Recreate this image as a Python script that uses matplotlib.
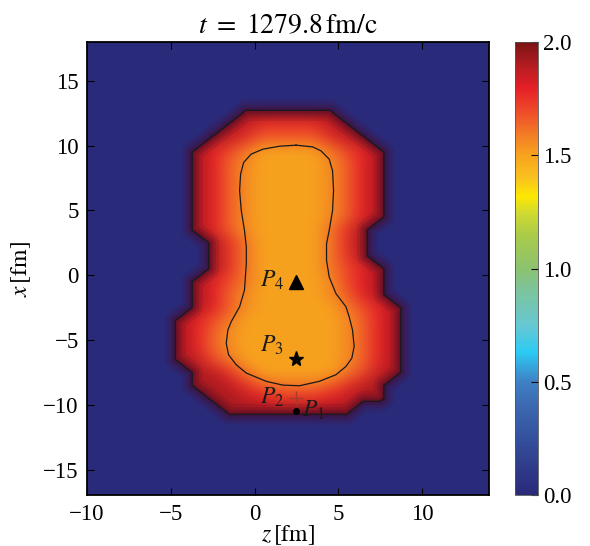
import numpy as np
import matplotlib
matplotlib.use("Agg")
import matplotlib.pyplot as plt
from matplotlib.colors import LinearSegmentedColormap

plt.rcParams['font.family'] = ['Liberation Serif', 'DejaVu Serif']
plt.rcParams['mathtext.fontset'] = 'stix'

# grid of cells, 1 fm wide (cell centres)
z_centres = np.arange(-9.5, 14.0, 1.0)
x_centres = np.arange(17.5, -17.0, -1.0)   # top row first

# cell values ('.' = 0, digits = levels below)
level_of = {'.': 0.0, '1': 1.50, '2': 1.55, '3': 1.60, '4': 1.65,
            '5': 1.70, '6': 1.75, '7': 1.80, '8': 1.86, '9': 1.92}
field_rows = [
    "........................",
    "........................",
    "........................",
    "........................",
    "........................",
    ".........999999.........",
    "........98666689........",
    ".......9864444689.......",
    "......975311113579......",
    "......974211112479......",
    "......974211112479......",
    "......974211112479......",
    "......974211112479......",
    "......974211112479......",
    "......97421111369.......",
    ".......9631111369.......",
    ".......9631111369.......",
    ".......96311113579......",
    "......975311112579......",
    "......974211112479......",
    "......9742111113579.....",
    ".....97531111112479.....",
    ".....97421111112479.....",
    ".....97421111112479.....",
    ".....98531111112479.....",
    "......9863111113589.....",
    "......998643334689......",
    ".......99876667899......",
    "........99999999........",
    "........................",
    "........................",
    "........................",
    "........................",
    "........................",
    "........................",
]
field = np.array([[level_of[c] for c in row] for row in field_rows])

# inner contour
inner_z = [2.48, 1.49, 0.5, -0.2, -0.65, -0.83, -0.89, -0.79, -0.6, -0.49, -0.49,
           -0.6, -0.89, -1.39, -1.59, -1.69, -1.55, -1.09, -0.49, 0.7, 1.69, 2.68,
           3.87, 4.86, 5.46, 5.81, 5.95, 5.85, 5.65, 5.46, 4.86, 4.46, 4.3, 4.3,
           4.46, 4.66, 4.72, 4.66, 4.46, 3.97, 3.47, 2.48]
inner_x = [10.04, 9.96, 9.73, 9.35, 8.7, 7.81, 6.53, 4.99, 3.46, 2.18, 0.9,
           -1.15, -2.43, -3.58, -4.22, -5.25, -6.14, -6.91, -7.55, -8.19, -8.48, -8.53,
           -8.19, -7.68, -7.04, -6.4, -5.5, -4.22, -3.2, -2.43, -1.41, -0.13, 1.15, 2.43,
           3.46, 4.99, 6.53, 8.06, 8.96, 9.6, 9.91, 10.04]

# probe points
point_z = [2.5, 2.5, 2.5, 2.5]
point_x = [-10.5, -9.5, -6.5, -0.5]
point_names = ['$P_1$', '$P_2$', '$P_3$', '$P_4$']

# colour scale
cmap_values = [0.0, 0.1, 0.25, 0.4, 0.5, 0.63, 0.75, 0.9, 1.0, 1.15, 1.25,
               1.32, 1.4, 1.5, 1.6, 1.7, 1.8, 1.9, 2.0]
cmap_colors = ['#2a2a7a', '#2e3886', '#34509c', '#3c6ab2', '#3f80c4', '#2ccaf4',
               '#66c8d2', '#7cc49e', '#8cc270', '#aacb48', '#d2da30', '#fde800',
               '#f9c21e', '#f7a41d', '#f27a26', '#ee4a2a', '#e61f28', '#b41c22',
               '#7a1414']
cmap = LinearSegmentedColormap.from_list(
    'dens', list(zip([v / 2.0 for v in cmap_values], cmap_colors)))
navy = cmap_colors[0]
edge_level = 1.48

fig = plt.figure(figsize=(5.9, 5.46), dpi=100)
ax = fig.add_axes([0.1475, 0.0925, 0.6813, 0.8305])
cax = fig.add_axes([0.873, 0.0925, 0.0385, 0.8305])

# smooth image of the hot region, empty cells take the rim value so the
# blur stays red up to the outline; outside is covered below
shown = np.where(field > 0, field, level_of['9'])
im = ax.imshow(shown, cmap=cmap, vmin=0, vmax=2, origin='upper',
               extent=[-10, 14, -17, 18], aspect='auto',
               interpolation='bicubic', interpolation_stage='rgba')

# padded grid so the cover reaches the frame
zz = np.concatenate([[z_centres[0] - 1], z_centres, [z_centres[-1] + 1]])
xs = x_centres[::-1]
xx = np.concatenate([[xs[0] - 1], xs, [xs[-1] + 1]])
ff = np.pad(field[::-1], 1)
ax.contourf(zz, xx, ff, levels=[-1, edge_level], colors=[navy])
# soft dark glow along the outline
for lw, al in [(15, 0.14), (10, 0.2), (6, 0.26), (3, 0.3)]:
    ax.contour(zz, xx, ff, levels=[edge_level], colors='#4a0c2a',
               linewidths=lw, alpha=al)
ax.contour(zz, xx, ff, levels=[edge_level], colors='#1a1a1a', linewidths=0.9)
ax.plot(inner_z, inner_x, color='#1a1a1a', lw=0.9)

# markers
ax.plot(point_z[0], point_x[0], 'o', color='k', ms=4)
ax.plot(point_z[1], point_x[1], '+', color='#a83a2a', ms=10, mew=1.0)
ax.plot(point_z[2], point_x[2], '*', color='k', ms=11)
ax.plot(point_z[3], point_x[3], '^', color='k', ms=10)
label_z = [3.52, 1.03, 1.03, 1.03]
label_x = [-10.43, -9.4, -5.38, -0.38]
for name, lz, lx in zip(point_names, label_z, label_x):
    ax.text(lz, lx, name, fontsize=17, ha='center', va='center', color='#1a1a1a')

ax.set_xlim(-10, 14)
ax.set_ylim(-17, 18)
ax.set_xticks([-10, -5, 0, 5, 10])
ax.set_yticks([-15, -10, -5, 0, 5, 10, 15])
ax.tick_params(direction='in', top=True, right=True, length=5, width=0.8,
               labelsize=16.5, pad=6)
for s in ax.spines.values():
    s.set_linewidth(1.3)
ax.set_title(r'$t\ =\ 1279.8\,\mathrm{fm/c}$', fontsize=20, pad=6)
ax.set_xlabel(r'$z\,[\mathrm{fm}]$', fontsize=17, labelpad=-1)
ax.set_ylabel(r'$x\,[\mathrm{fm}]$', fontsize=17, labelpad=7)

cb = fig.colorbar(im, cax=cax, ticks=[0, 0.5, 1.0, 1.5, 2.0], format='%.1f')
cb.ax.tick_params(direction='in', length=5, width=0.8, labelsize=16.5)
cb.outline.set_linewidth(0.6)
cb.outline.set_edgecolor('#555555')

fig.savefig('out.png', dpi=100)
